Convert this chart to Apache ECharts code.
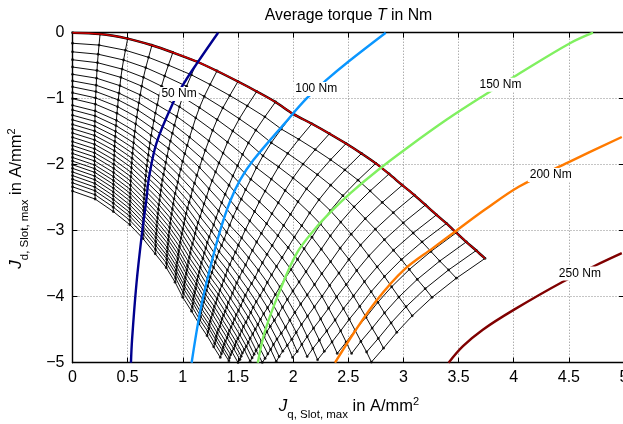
<!DOCTYPE html>
<html><head><meta charset="utf-8">
<script src="https://cdn.jsdelivr.net/npm/echarts@6/dist/echarts.min.js"></script>
<style>html,body{margin:0;padding:0;background:#fff}#c{width:623px;height:424px}</style>
</head><body><div id="c"></div>
<script>
// ---- axis ticks ----
const xTicks = [0,0.5,1,1.5,2,2.5,3,3.5,4,4.5,5];
const yTicks = [-5,-4,-3,-2,-1,0];

// ---- torque contours (Jq, Jd) ----
const torqueLevels = ['50 Nm','100 Nm','150 Nm','200 Nm','250 Nm'];
const torqueColors = ['#00008f','#0a96ff','#80f060','#ff7a00','#800000'];
const c50  = [[1.32,0],[1.13,-0.46],[1.02,-0.74],[0.91,-1.07],[0.76,-1.68],[0.69,-2.23],[0.67,-2.53],[0.63,-3.04],[0.58,-3.8],[0.54,-4.65],[0.53,-5]];
const c100 = [[2.84,0],[2.5,-0.44],[2.3,-0.72],[2.12,-1.0],[1.91,-1.4],[1.64,-1.93],[1.52,-2.23],[1.43,-2.55],[1.34,-2.99],[1.25,-3.55],[1.16,-4.2],[1.08,-5]];
const c150 = [[4.72,0],[4.51,-0.16],[4.03,-0.64],[3.74,-0.94],[3.39,-1.32],[3.03,-1.75],[2.77,-2.08],[2.52,-2.43],[2.35,-2.7],[2.2,-2.97],[2.03,-3.35],[1.87,-3.95],[1.74,-4.55],[1.68,-5]];
const c200 = [[4.98,-1.58],[4.5,-1.96],[4.05,-2.33],[3.74,-2.68],[3.48,-3.0],[3.27,-3.26],[3.0,-3.6],[2.76,-4.05],[2.55,-4.55],[2.38,-5]];
const c250 = [[4.98,-3.34],[4.75,-3.52],[4.45,-3.77],[4.0,-4.2],[3.72,-4.5],[3.54,-4.75],[3.41,-5]];
const contourLabelPos = [[0.966,-0.93],[2.21,-0.853],[3.88,-0.79],[4.336,-2.156],[4.6,-3.65]];

// ---- operating-point mesh: boundary nodes ----
// start of the constant-speed lines on Jq = 0
const meshLeftY = [0,-0.16,-0.29,-0.41,-0.52,-0.63,-0.73,-0.82,-0.91,-1.0,-1.1,-1.17,-1.25,-1.32,-1.39,-1.455,-1.52,-1.585,-1.65,-1.71,-1.77,-1.83,-1.89,-1.945,-2.0,-2.055,-2.11,-2.165,-2.22,-2.275,-2.335,-2.4];
// nodes on the MTPA curve (red)
const meshTop = [[0,0],[0.25,-0.02],[0.5,-0.09],[0.72,-0.19],[0.91,-0.3],[1.13,-0.44],[1.31,-0.58],[1.5,-0.74],[1.67,-0.89],[1.84,-1.05],[2.0,-1.23],[2.17,-1.38],[2.33,-1.53],[2.48,-1.68],[2.62,-1.83],[2.75,-1.98],[2.87,-2.14],[2.99,-2.31],[3.1,-2.46],[3.2,-2.61],[3.3,-2.76],[3.39,-2.89],[3.48,-3.03],[3.57,-3.17],[3.66,-3.3],[3.74,-3.42]];
// nodes on the lower-left boundary (continues below the plot)
const meshBottom = [[0,-2.4],[0.205,-2.52],[0.37,-2.71],[0.52,-2.91],[0.64,-3.12],[0.75,-3.35],[0.85,-3.56],[0.93,-3.78],[1.0,-4.01],[1.08,-4.22],[1.147,-4.41],[1.22,-4.59],[1.28,-4.76],[1.34,-4.92],[1.396,-5.068],[1.45,-5.217],[1.5,-5.365],[1.553,-5.513],[1.6,-5.662],[1.645,-5.81],[1.685,-5.958],[1.723,-6.107],[1.758,-6.255],[1.79,-6.403],[1.82,-6.552],[1.85,-6.7]];
// nodes on the lower-right boundary (continues below the plot)
const meshRight = [[3.74,-3.42],[3.48,-3.72],[3.26,-4.01],[3.08,-4.29],[2.94,-4.54],[2.82,-4.78],[2.71,-4.99],[2.62,-5.18],[2.53,-5.36],[2.45,-5.51],[2.38,-5.64],[2.32,-5.77],[2.27,-5.88],[2.22,-5.97],[2.17,-6.06],[2.13,-6.14],[2.1,-6.21],[2.07,-6.27],[2.04,-6.33],[2.01,-6.38],[1.99,-6.43],[1.97,-6.47],[1.95,-6.5],[1.93,-6.53],[1.92,-6.56],[1.91,-6.59],[1.89,-6.61],[1.88,-6.63],[1.87,-6.65],[1.87,-6.67],[1.86,-6.68],[1.85,-6.7]];

// ---- build mesh nodes (transfinite blend of the boundary nodes) ----
const NA = meshLeftY.length, NB = meshTop.length;
const P00 = meshTop[0], P01 = meshTop[NB-1], P10 = meshBottom[0], P11 = meshBottom[NB-1];
const nodes = [];
for (let i = 0; i < NA; i++) {
  nodes.push([]);
  const s = i/(NA-1);
  for (let j = 0; j < NB; j++) {
    const t = j/(NB-1);
    const L = [0, meshLeftY[i]], R = meshRight[i], T = meshTop[j], B = meshBottom[j];
    const p = [0,1].map(k => (1-t)*L[k] + t*R[k] + (1-s)*T[k] + s*B[k]
      - ((1-s)*(1-t)*P00[k] + (1-s)*t*P01[k] + s*(1-t)*P10[k] + s*t*P11[k]));
    nodes[i].push(p[1] >= -5.0 ? p : null);
  }
}
function segments(pts) {
  const out = []; let cur = [];
  pts.forEach(p => { if (p) cur.push(p); else { if (cur.length > 1) out.push(cur); cur = []; } });
  if (cur.length > 1) out.push(cur);
  return out;
}
const series = [];
const meshLine = d => ({type:'line', data:d, showSymbol:false, silent:true, animation:false, z:2,
  lineStyle:{color:'#000', width:0.95}, itemStyle:{color:'#000'}});
for (let i = 1; i < NA; i++) segments(nodes[i]).forEach(sg => series.push(meshLine(sg)));
for (let j = 0; j < NB; j++) segments(nodes.map(r => r[j])).forEach(sg => series.push(meshLine(sg)));
const nodePts = [];
nodes.forEach(r => r.forEach(p => { if (p) nodePts.push(p); }));
series.push({type:'scatter', data:nodePts, symbolSize:2.8, silent:true, animation:false, z:3, itemStyle:{color:'#000'}});
// MTPA curve
series.push({type:'line', data:meshTop, showSymbol:false, silent:true, animation:false, z:4, smooth:0.3,
  lineStyle:{color:'#000', width:2.4}});
series.push({type:'line', data:meshTop, showSymbol:false, silent:true, animation:false, z:4, smooth:0.3,
  lineStyle:{color:'#d00000', width:1.4}});
// torque contours
[c50,c100,c150,c200,c250].forEach((c, k) => series.push({type:'line', data:c, showSymbol:false, silent:true,
  animation:false, z:5, smooth:0.35, lineStyle:{color:torqueColors[k], width:2.4}}));

const FONT = '"Liberation Sans", Arial, sans-serif';
const minus = v => v < 0 ? '\u2212' + (-v) : String(v);
const axisCommon = {
  type:'value', axisLine:{onZero:false, lineStyle:{color:'#000', width:1.4}},
  axisTick:{inside:true, length:5, lineStyle:{color:'#000', width:1}},
};
const chart = echarts.init(document.getElementById('c'));
chart.setOption({
  animation:false,
  grid:{left:72.5, top:32.7, width:551.5, height:330, containLabel:false, outerBoundsMode:'none'},
  xAxis:[
    Object.assign({}, axisCommon, {min:xTicks[0], max:xTicks[xTicks.length-1], interval:0.5, position:'bottom',
      axisLabel:{color:'#000', fontSize:16, fontFamily:FONT, margin:7, formatter:v => String(v)},
      splitLine:{show:true, lineStyle:{color:'#8a8a8a', type:[1,2], width:1}}}),
    Object.assign({}, axisCommon, {min:xTicks[0], max:xTicks[xTicks.length-1], interval:0.5, position:'top',
      axisLabel:{show:false}, splitLine:{show:false}})
  ],
  yAxis:[
    Object.assign({}, axisCommon, {min:yTicks[0], max:yTicks[yTicks.length-1], interval:1, position:'left',
      axisLabel:{color:'#000', fontSize:16, fontFamily:FONT, margin:8, formatter:minus},
      splitLine:{show:true, lineStyle:{color:'#8a8a8a', type:[1,2], width:1}}}),
    Object.assign({}, axisCommon, {min:yTicks[0], max:yTicks[yTicks.length-1], interval:1, position:'right',
      axisLabel:{show:false}, splitLine:{show:false}})
  ],
  series: series
});

// ---- texts ----
const mctx = document.createElement('canvas').getContext('2d');
const fontStr = p => (p.italic ? 'italic ' : '') + p.size + 'px ' + FONT;
function richText(pieces, cx, baseY, rotation) {
  let total = 0;
  pieces.forEach(p => { mctx.font = fontStr(p); p.w = mctx.measureText(p.text).width; total += p.w; });
  let x = -total/2; const children = [];
  pieces.forEach(p => {
    children.push({type:'text', x:x, y:(p.dy || 0) - 0.31*p.size, silent:true,
      style:{text:p.text, font:fontStr(p), fill:'#000', textAlign:'left', textVerticalAlign:'middle', verticalAlign:'middle'}});
    x += p.w;
  });
  return {type:'group', x:cx, y:baseY, rotation:rotation || 0, children:children, z:20};
}
const graphics = [];
graphics.push(richText([{text:'Average torque ', size:15.8},{text:'T', size:15.8, italic:true},{text:' in Nm', size:15.8}], 348.5, 20.7));
graphics.push(richText([{text:'J', size:17, italic:true},{text:'q, Slot, max', size:11.5, dy:6},{text:' in A/mm', size:16.5},{text:'2', size:11, dy:-6.5}], 349, 412));
graphics.push(richText([{text:'J', size:17, italic:true},{text:'d, Slot, max', size:11.5, dy:6},{text:' in A/mm', size:16.5},{text:'2', size:11, dy:-6.5}], 22, 198.5, Math.PI/2));
contourLabelPos.forEach((pos, k) => {
  const px = chart.convertToPixel({xAxisIndex:0, yAxisIndex:0}, pos);
  graphics.push({type:'text', x:px[0], y:px[1], z:30, silent:true,
    style:{text:torqueLevels[k], font:'12px ' + FONT, fill:'#000', textAlign:'center', textVerticalAlign:'middle',
      verticalAlign:'middle', align:'center', backgroundColor:'#fff', padding:[1,2]}});
});
chart.setOption({graphic:graphics});
</script>
</body></html>
